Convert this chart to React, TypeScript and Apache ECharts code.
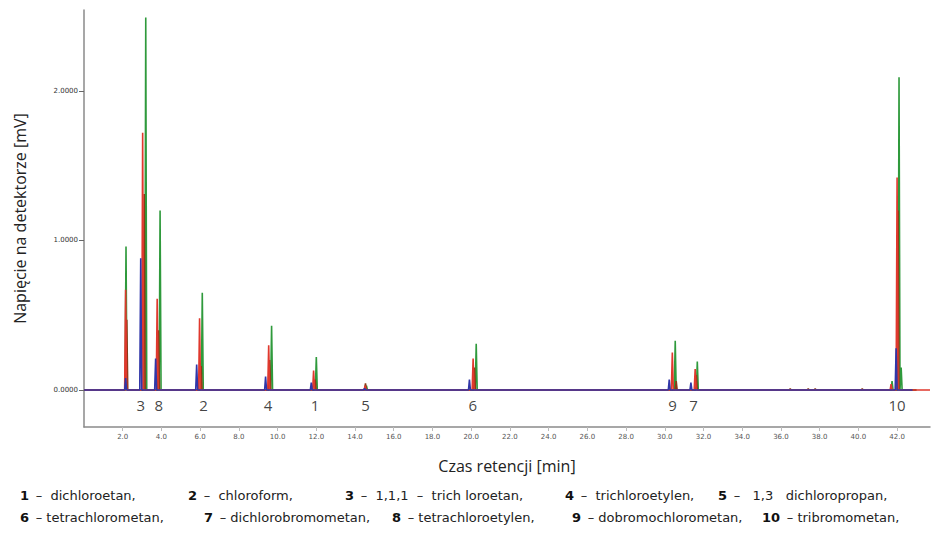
import React, { useEffect, useRef } from "react";
import * as echarts from "echarts";

// axis ticks
const xTickValues = [2, 4, 6, 8, 10, 12, 14, 16, 18, 20, 22, 24, 26, 28, 30, 32, 34, 36, 38, 40, 42];
const yTickValues = [0, 1, 2];

// peak apex retention times [min] and heights [mV] for each overlaid trace
const bluePeakTimes = [2.15, 2.93, 3.7, 5.82, 9.38, 11.74, 14.49, 19.91, 30.23, 31.35, 41.95];
const bluePeakHeights = [0.08, 0.88, 0.21, 0.17, 0.09, 0.05, 0.01, 0.07, 0.07, 0.05, 0.28];

const redPeakTimes = [2.15, 3.03, 3.78, 5.97, 9.54, 11.86, 14.52, 20.1, 30.39, 31.57, 41.69, 42.0];
const redPeakHeights = [0.67, 1.72, 0.61, 0.48, 0.3, 0.13, 0.03, 0.21, 0.25, 0.14, 0.04, 1.42];

const brownPeakTimes = [2.21, 3.11, 3.85, 6.05, 9.59, 11.94, 14.54, 20.17, 30.59, 31.63, 36.48, 37.41, 37.77, 40.2, 42.05];
const brownPeakHeights = [0.47, 1.31, 0.4, 0.16, 0.2, 0.07, 0.045, 0.15, 0.06, 0.1, 0.008, 0.008, 0.008, 0.008, 1.2];

const greenPeakTimes = [2.17, 3.19, 3.93, 6.11, 9.69, 12.0, 14.59, 20.26, 30.54, 31.68, 41.74, 42.1, 42.21];
const greenPeakHeights = [0.96, 2.49, 1.2, 0.65, 0.43, 0.22, 0.03, 0.31, 0.33, 0.19, 0.06, 2.09, 0.15];

// peak number labels
const peakLabelNames = ["3", "8", "2", "4", "1", "5", "6", "9", "7", "10"];
const peakLabelTimes = [2.93, 3.86, 6.18, 9.5, 11.93, 14.54, 20.08, 30.4, 31.48, 42.0];
const peakLabelLevel = -0.1;

// legend lines: [number, description]
const legendLine1: [string, string][] = [
  ["1", "–  dichloroetan,"],
  ["2", "–  chloroform,"],
  ["3", "–  1,1,1  –  trich loroetan,"],
  ["4", "–  trichloroetylen,"],
  ["5", "–   1,3   dichloropropan,"],
];
const legendLine2: [string, string][] = [
  ["6", "– tetrachlorometan,"],
  ["7", "– dichlorobromometan,"],
  ["8", "– tetrachloroetylen,"],
  ["9", "– dobromochlorometan,"],
  ["10", "– tribromometan,"],
];
const legendLine1X = [20, 188, 345, 565, 718];
const legendLine2X = [20, 204, 392, 572, 762];

const X_MIN = 0;
const X_MAX = 43.7;
const Y_MIN = -0.247;
const Y_MAX = 2.54;

function spikes(times: number[], heights: number[], start: number, end: number, w = 0.05) {
  const pts: [number, number][] = [[start, 0]];
  times.forEach((t, i) => {
    pts.push([t - w, 0], [t, heights[i]], [t + w, 0]);
  });
  pts.push([end, 0]);
  return pts;
}

export default function App() {
  const ref = useRef<HTMLDivElement>(null);
  useEffect(() => {
    if (!ref.current) return;
    const chart = echarts.init(ref.current, undefined, { renderer: "svg" });
    const lineSeries = (name: string, data: [number, number][], color: string, width = 1.6) => ({
      name,
      type: "line",
      data,
      showSymbol: false,
      symbol: "none",
      lineStyle: { color, width },
      silent: true,
    });
    const legendFont = "'DejaVu Sans', sans-serif";
    const legendTexts: any[] = [];
    const addLine = (items: [string, string][], xs: number[], y: number) => {
      items.forEach(([n, d], i) => {
        legendTexts.push({
          type: "text",
          left: xs[i],
          top: y,
          style: {
            text: `{b|${n}}  {n|${d}}`,
            rich: {
              b: { fontWeight: "bold", fontSize: 13, fontFamily: legendFont, fill: "#111" },
              n: { fontSize: 13, fontFamily: legendFont, fill: "#222" },
            },
          },
        });
      });
    };
    addLine(legendLine1, legendLine1X, 489);
    addLine(legendLine2, legendLine2X, 511);

    chart.setOption({
      animation: false,
      grid: { left: 84, right: 15, top: 10, bottom: 108 },
      xAxis: {
        type: "value",
        min: X_MIN,
        max: X_MAX,
        name: "Czas retencji [min]",
        nameLocation: "middle",
        nameGap: 31,
        nameTextStyle: { fontSize: 16, fontFamily: "'Open Sans', sans-serif", color: "#222" },
        axisLine: { onZero: false, lineStyle: { color: "#8a8a8a", width: 1.5 } },
        axisTick: { customValues: xTickValues, length: 4, lineStyle: { color: "#bbb" } },
        axisLabel: {
          customValues: xTickValues,
          formatter: (v: number) => v.toFixed(1),
          fontSize: 7,
          color: "#555",
          margin: 6,
          fontFamily: "'DejaVu Sans', sans-serif",
        },
        splitLine: { show: false },
      },
      yAxis: {
        type: "value",
        min: Y_MIN,
        max: Y_MAX,
        name: "Napięcie na detektorze [mV]",
        nameLocation: "middle",
        nameRotate: 90,
        nameGap: 56,
        nameTextStyle: { fontSize: 16, fontFamily: "'Open Sans', sans-serif", color: "#222" },
        axisLine: { lineStyle: { color: "#8a8a8a", width: 1.5 } },
        axisTick: { customValues: yTickValues, length: 5, lineStyle: { color: "#666" } },
        axisLabel: {
          customValues: yTickValues,
          formatter: (v: number) => v.toFixed(4),
          fontSize: 7,
          color: "#333",
          margin: 6,
          fontFamily: "'DejaVu Sans', sans-serif",
        },
        splitLine: { show: false },
      },
      series: [
        lineSeries("green", spikes(greenPeakTimes, greenPeakHeights, 0, 43), "#2f9a3c"),
        lineSeries("brown", spikes(brownPeakTimes, brownPeakHeights, 0, 43), "#8a3a16"),
        lineSeries("red", spikes(redPeakTimes, redPeakHeights, 0, X_MAX), "#e0392e"),
        lineSeries("blue", spikes(bluePeakTimes, bluePeakHeights, 0, 42.8), "#3036a8"),
        {
          name: "labels",
          type: "scatter",
          symbolSize: 0,
          silent: true,
          data: peakLabelTimes.map((t, i) => ({ value: [t, peakLabelLevel], name: peakLabelNames[i] })),
          label: {
            show: true,
            position: "inside",
            formatter: (p: any) => p.name,
            fontSize: 15,
            fontFamily: "'Open Sans', sans-serif",
            color: "#111",
          },
        },
      ],
      graphic: legendTexts,
    });
    return () => chart.dispose();
  }, []);
  return (
    <div
      ref={ref}
      style={{ position: "absolute", left: 0, top: 0, width: 945, height: 535 }}
    />
  );
}
